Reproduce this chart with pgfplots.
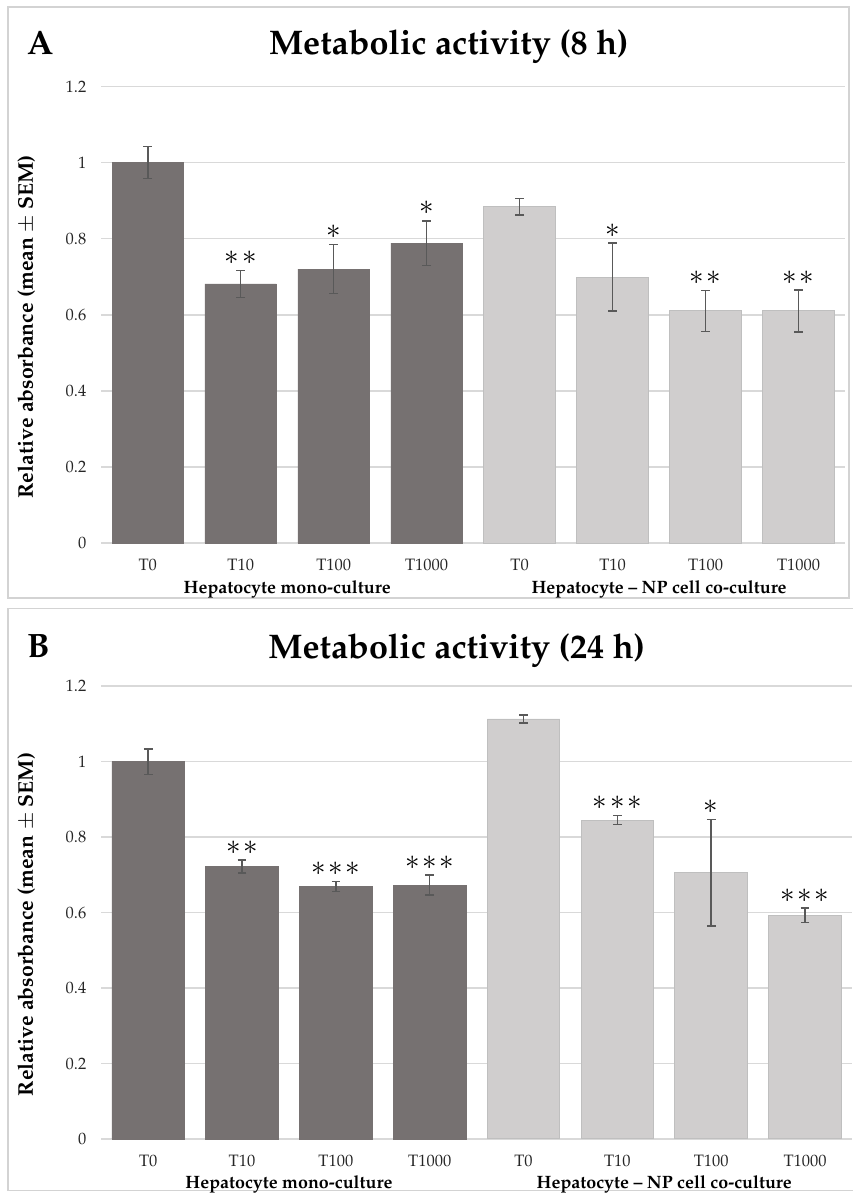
\documentclass[border=0pt]{standalone}
\usepackage[T1]{fontenc}
\usepackage{mathpazo}
\usepackage{pgfplots}
\usepackage{pgfplotstable}
\pgfplotsset{compat=1.18}
\definecolor{darkbar}{HTML}{767171}
\definecolor{lightbar}{HTML}{D0CECE}
\definecolor{lightedge}{HTML}{BFBFBF}
\definecolor{errc}{HTML}{595959}
\definecolor{gridc}{HTML}{D9D9D9}
\definecolor{framec}{HTML}{D3D3D3}

\pgfplotstableread{
x y e
0 1.000 0.042
1 0.681 0.036
2 0.720 0.064
3 0.788 0.059
}\Amono
\pgfplotstableread{
x y e
4 0.884 0.022
5 0.699 0.089
6 0.610 0.054
7 0.610 0.055
}\Aco
\pgfplotstableread{
x t s
1 0.717 2
2 0.784 1
3 0.847 1
5 0.788 1
6 0.664 2
7 0.665 2
}\Astars
\pgfplotstableread{
x y e
0 1.000 0.034
1 0.722 0.017
2 0.669 0.013
3 0.673 0.026
}\Bmono
\pgfplotstableread{
x y e
4 1.113 0.011
5 0.845 0.012
6 0.705 0.141
7 0.593 0.019
}\Bco
\pgfplotstableread{
x t s
1 0.739 2
2 0.682 3
3 0.699 3
5 0.857 3
6 0.846 1
7 0.612 3
}\Bstars

\newcommand\onestar{${\ast}$}
\newcommand\stars[1]{\ifcase#1\relax\or\onestar\or\onestar\kern1pt\onestar\or\onestar\kern1pt\onestar\kern1pt\onestar\fi}

\tikzset{grouplabel/.style={font=\fontsize{9}{10}\selectfont\bfseries, yshift=-23pt}}

\pgfplotsset{
  panel/.style={
    scale only axis, clip=false,
    xmin=-0.5, xmax=7.5, ymin=0, ymax=1.2,
    ytick={0,0.2,0.4,0.6,0.8,1,1.2},
    xtick={0,...,7},
    xticklabels={T0,T10,T100,T1000,T0,T10,T100,T1000},
    axis line style={draw=none},
    major tick length=0pt,
    ymajorgrids, grid style={gridc, line width=0.75pt},
    tick label style={font=\fontsize{8.3}{9}\selectfont, text=black!85},
    /pgf/number format/assume math mode=true,
    yticklabel style={anchor=east, xshift=-4pt},
    xticklabel style={anchor=center, yshift=-11pt},
  },
  errstyle/.style={error bars/.cd, y dir=both, y explicit,
    error bar style={errc, line width=0.75pt},
    error mark options={errc, line width=0.75pt, mark size=2.2pt, rotate=90}},
  darkbars/.style={ybar, bar width=#1, bar shift=0pt, fill=darkbar, draw=darkbar, line width=0.4pt, errstyle},
  lightbars/.style={ybar, bar width=#1, bar shift=0pt, fill=lightbar, draw=lightedge, line width=0.5pt, errstyle},
  starplot/.style={draw=none, mark=none, point meta=explicit symbolic,
    nodes near coords={\stars{\pgfplotspointmeta}},
    every node near coord/.append style={anchor=center, yshift=6.3pt, inner sep=0pt,
      font=\fontsize{14}{14}\selectfont, text=black}},
}

\begin{document}
\begin{tikzpicture}
\begin{scope}[x=0.5pt,y=-0.5pt]
\useasboundingbox (0,0) rectangle (859,1200);
\draw[framec, line width=0.75pt] (8,7) rectangle (855,602);
\draw[framec, line width=0.75pt] (870,613) -- (8,613) -- (8,1199) -- (870,1199);
% panel A texts
\node[anchor=base west, inner sep=0pt, font=\fontsize{17}{19}\selectfont\bfseries] at (27,55) {A};
\node[anchor=base, inner sep=0pt, font=\fontsize{17.2}{19}\selectfont\bfseries] at (452,55) {Metabolic activity (8 h)};
\node[rotate=90, anchor=base, inner sep=0pt, font=\fontsize{10.7}{12}\selectfont\bfseries] at (33,329) {Relative absorbance (mean $\pm$ SEM)};
% panel B texts
\node[anchor=base west, inner sep=0pt, font=\fontsize{17}{19}\selectfont\bfseries] at (27,662) {B};
\node[anchor=base, inner sep=0pt, font=\fontsize{17.2}{19}\selectfont\bfseries] at (460,663) {Metabolic activity (24 h)};
\node[rotate=90, anchor=base, inner sep=0pt, font=\fontsize{10.7}{12}\selectfont\bfseries] at (33,931) {Relative absorbance (mean $\pm$ SEM)};
\end{scope}

\begin{axis}[panel, at={(51pt,-273.5pt)}, anchor=south west, width=374.5pt, height=230pt]
\addplot[darkbars=36pt] table[x=x, y=y, y error=e] {\Amono};
\addplot[lightbars=36pt] table[x=x, y=y, y error=e] {\Aco};
\addplot[starplot] table[x=x, y=t, meta=s] {\Astars};
\node[grouplabel] at (axis cs:1.5,0) {Hepatocyte mono-culture};
\node[grouplabel] at (axis cs:5.5,0) {Hepatocyte -- NP cell co-culture};
\end{axis}

\begin{axis}[panel, at={(51pt,-573.5pt)}, anchor=south west, width=378pt, height=228pt]
\addplot[darkbars=36.5pt] table[x=x, y=y, y error=e] {\Bmono};
\addplot[lightbars=36.5pt] table[x=x, y=y, y error=e] {\Bco};
\addplot[starplot] table[x=x, y=t, meta=s] {\Bstars};
\node[grouplabel] at (axis cs:1.5,0) {Hepatocyte mono-culture};
\node[grouplabel] at (axis cs:5.5,0) {Hepatocyte -- NP cell co-culture};
\end{axis}
\end{tikzpicture}
\end{document}
